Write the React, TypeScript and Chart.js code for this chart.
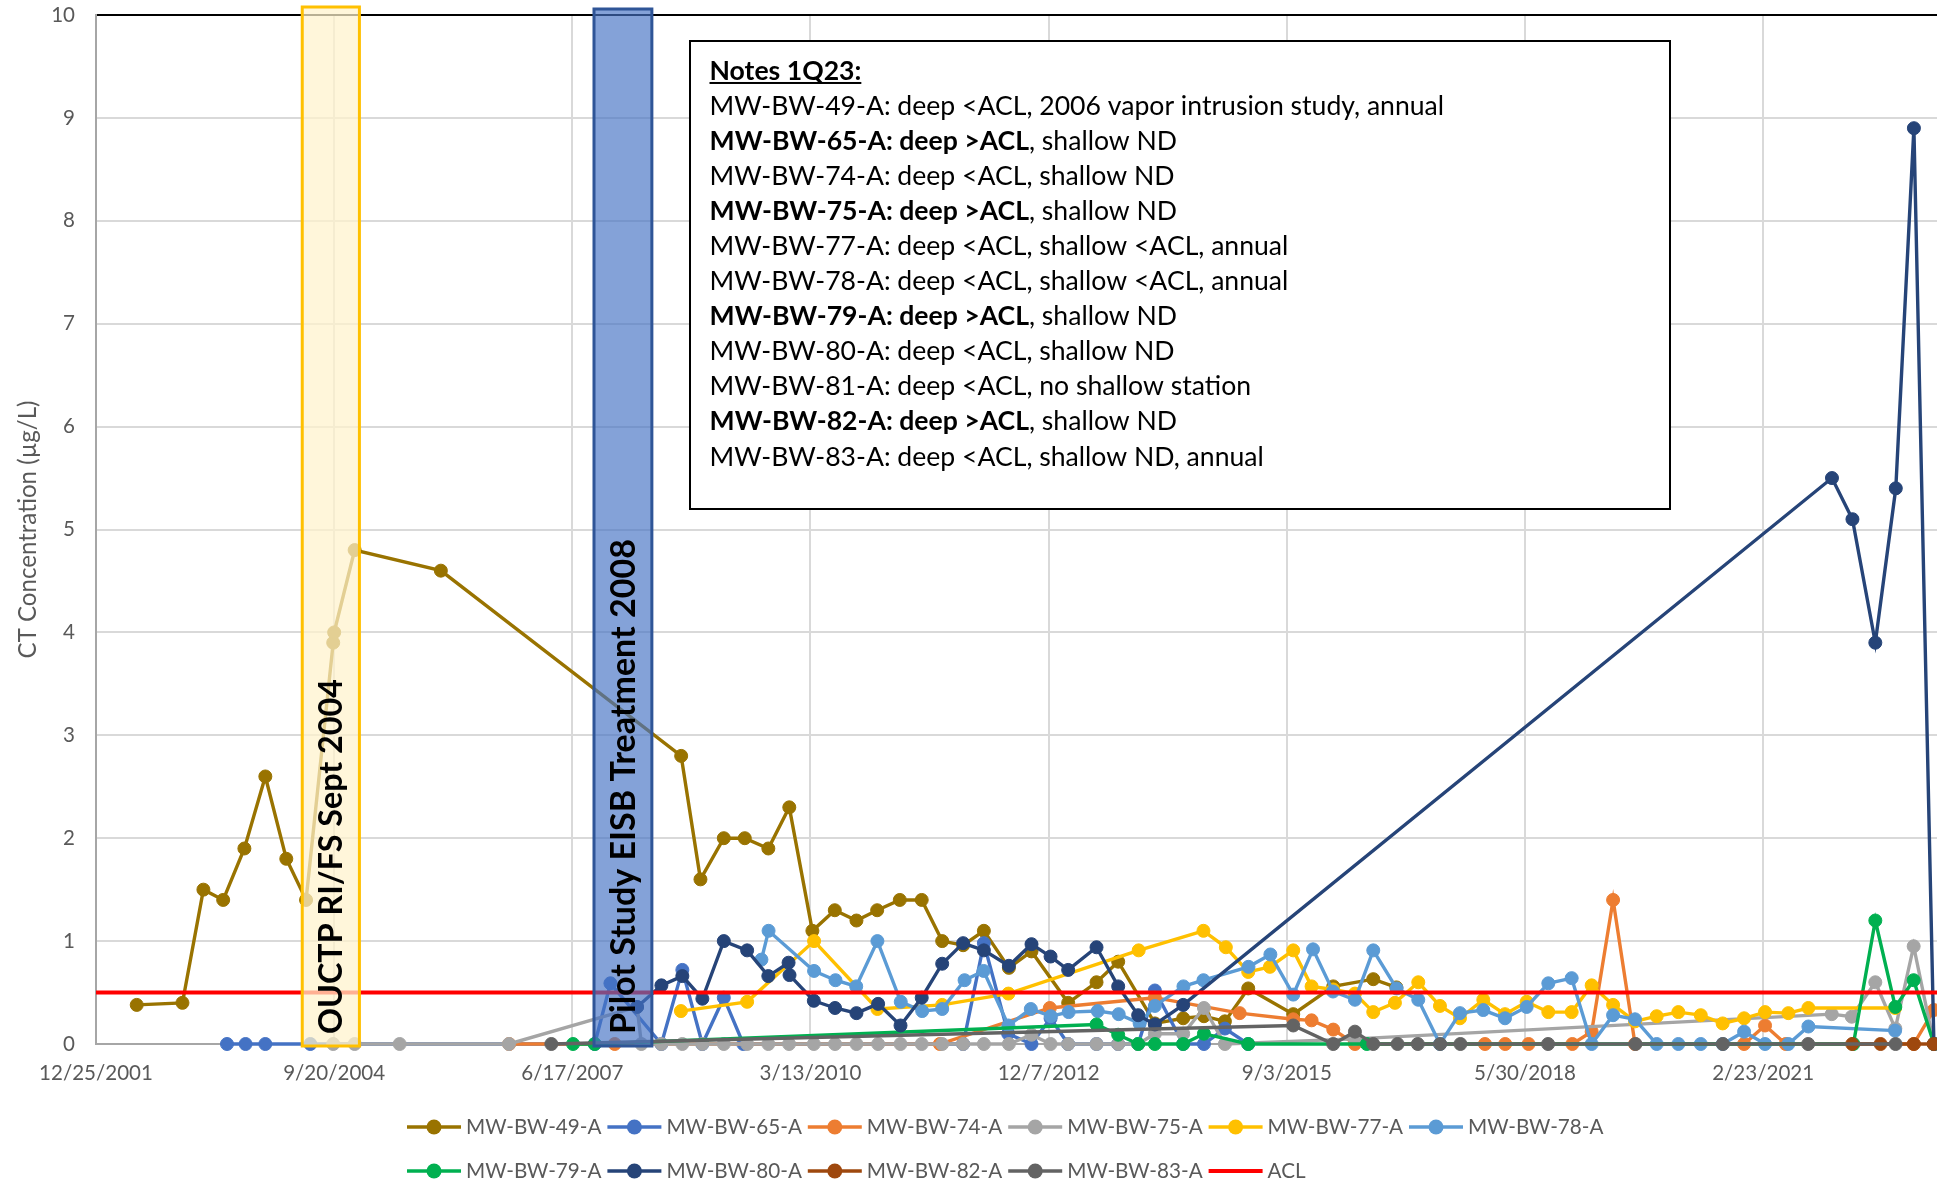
import React, { useEffect, useRef } from 'react';
import { Chart, registerables } from 'chart.js';

Chart.register(...registerables);

const W = 1937;
const H = 1185;
const FONT = 'Lato, "Open Sans", sans-serif';

// x values are days counted from the axis origin 12/25/2001
const AXIS_ORIGIN = '12/25/2001';
const X_MIN = 0;
const X_MAX = 7730;
const X_TICK_VALUES = [0, 1000, 2000, 3000, 4000, 5000, 6000, 7000];
const X_TICK_LABELS = ['12/25/2001', '9/20/2004', '6/17/2007', '3/13/2010', '12/7/2012', '9/3/2015', '5/30/2018', '2/23/2021'];
const Y_MIN = 0;
const Y_MAX = 10;
const Y_STEP = 1;
const Y_TITLE = 'CT Concentration (µg/L)';

const SERIES_NAMES = ['MW-BW-49-A', 'MW-BW-65-A', 'MW-BW-74-A', 'MW-BW-75-A', 'MW-BW-77-A', 'MW-BW-78-A', 'MW-BW-79-A', 'MW-BW-80-A', 'MW-BW-82-A', 'MW-BW-83-A', 'ACL'];
const SERIES_COLORS = ['#997300', '#4472C4', '#ED7D31', '#A5A5A5', '#FFC000', '#5B9BD5', '#00B050', '#264478', '#9E480E', '#636363', '#FF0000'];

const DAYS_49 = [171, 363, 451, 534, 623, 711, 799, 882, 996, 1000, 1086, 1448, 2457, 2538, 2636, 2724, 2823, 2911, 3008, 3102, 3193, 3280, 3375, 3467, 3553, 3641, 3728, 3833, 3928, 4082, 4201, 4292, 4446, 4565, 4652, 4740, 4838, 5027, 5195, 5363, 5460];
const VALUES_49 = [0.38, 0.40, 1.5, 1.4, 1.9, 2.6, 1.8, 1.4, 3.9, 4.0, 4.8, 4.6, 2.8, 1.6, 2.0, 2.0, 1.9, 2.3, 1.1, 1.3, 1.2, 1.3, 1.4, 1.4, 1.0, 0.96, 1.1, 0.74, 0.9, 0.4, 0.6, 0.8, 0.2, 0.25, 0.27, 0.22, 0.54, 0.29, 0.56, 0.63, 0.55];

const DAYS_65 = [550, 628, 711, 900, 2094, 2160, 2374, 2462, 2546, 2636, 2718, 3641, 3728, 3830, 3928, 4008, 4082, 4201, 4292, 4376, 4446, 4565, 4652, 4740, 4838];
const VALUES_65 = [0, 0, 0, 0, 0, 0.59, 0, 0.72, 0, 0.45, 0, 0, 0.98, 0.1, 0, 0.25, 0, 0, 0, 0, 0.52, 0, 0, 0.15, 0];

const DAYS_74 = [1735, 2178, 3543, 4005, 4446, 4802, 5027, 5104, 5195, 5286, 5832, 5917, 6015, 6199, 6280, 6370, 6462, 6920, 7008, 7095, 7632, 7717];
const VALUES_74 = [0, 0, 0, 0.35, 0.45, 0.3, 0.24, 0.23, 0.14, 0, 0, 0, 0, 0, 0.12, 1.4, 0, 0, 0.18, 0, 0, 0.33];

const DAYS_75 = [996, 1086, 1275, 1734, 2272, 2290, 2374, 2462, 2546, 2636, 2734, 2823, 2910, 3014, 3103, 3193, 3284, 3378, 3467, 3553, 3641, 3728, 3833, 3928, 4008, 4082, 4201, 4292, 4376, 4446, 4565, 4652, 4740, 5286, 7288, 7372, 7471, 7555, 7632, 7717];
const VALUES_75 = [0, 0, 0, 0, 0.36, 0, 0, 0, 0, 0, 0, 0, 0, 0, 0, 0, 0, 0, 0, 0, 0, 0, 0, 0.09, 0, 0, 0, 0, 0, 0.1, 0.1, 0.35, 0, 0.05, 0.29, 0.265, 0.6, 0.15, 0.95, 0];

const DAYS_77 = [2456, 2734, 3015, 3281, 3553, 3831, 4378, 4650, 4744, 4838, 4929, 5027, 5104, 5195, 5286, 5363, 5454, 5552, 5643, 5727, 5825, 5916, 6007, 6098, 6196, 6280, 6370, 6462, 6553, 6644, 6738, 6830, 6920, 7008, 7106, 7190, 7554];
const VALUES_77 = [0.32, 0.41, 1.0, 0.34, 0.38, 0.49, 0.91, 1.1, 0.94, 0.70, 0.75, 0.91, 0.56, 0.53, 0.49, 0.31, 0.40, 0.60, 0.37, 0.25, 0.43, 0.29, 0.41, 0.31, 0.31, 0.57, 0.38, 0.22, 0.27, 0.31, 0.28, 0.20, 0.25, 0.31, 0.30, 0.35, 0.35];

const DAYS_78 = [2794, 2824, 3015, 3105, 3192, 3281, 3379, 3469, 3553, 3647, 3727, 3831, 3925, 4009, 4084, 4206, 4294, 4382, 4446, 4566, 4650, 4839, 4931, 5027, 5110, 5194, 5286, 5363, 5461, 5552, 5643, 5727, 5825, 5916, 6007, 6098, 6196, 6280, 6370, 6462, 6553, 6644, 6738, 6830, 6920, 7008, 7106, 7190, 7554];
const VALUES_78 = [0.82, 1.1, 0.71, 0.62, 0.56, 1.0, 0.41, 0.32, 0.34, 0.62, 0.71, 0.18, 0.34, 0.27, 0.31, 0.32, 0.29, 0.20, 0.37, 0.56, 0.62, 0.75, 0.87, 0.48, 0.92, 0.51, 0.43, 0.91, 0.54, 0.43, 0, 0.30, 0.33, 0.25, 0.36, 0.59, 0.64, 0, 0.28, 0.24, 0, 0, 0, 0, 0.12, 0, 0, 0.17, 0.13];

const DAYS_79 = [2003, 2094, 4201, 4292, 4376, 4446, 4565, 4652, 4838, 5336, 7379, 7471, 7555, 7632, 7717];
const VALUES_79 = [0, 0, 0.19, 0.09, 0, 0, 0, 0.1, 0, 0, 0, 1.2, 0.36, 0.62, 0];

const DAYS_80 = [2272, 2374, 2462, 2546, 2636, 2734, 2823, 2908, 2912, 3014, 3103, 3193, 3284, 3378, 3467, 3553, 3641, 3728, 3833, 3928, 4008, 4082, 4201, 4292, 4376, 4446, 4565, 7289, 7375, 7471, 7557, 7633, 7717];
const VALUES_80 = [0.36, 0.57, 0.66, 0.44, 1.0, 0.91, 0.66, 0.79, 0.67, 0.42, 0.35, 0.30, 0.39, 0.18, 0.45, 0.78, 0.98, 0.91, 0.76, 0.97, 0.85, 0.72, 0.94, 0.56, 0.28, 0.19, 0.38, 5.5, 5.1, 3.9, 5.4, 8.9, 0];

const DAYS_82 = [7374, 7493, 7633, 7716];
const VALUES_82 = [0, 0, 0, 0];

const DAYS_83 = [1912, 5027, 5195, 5286, 5363, 5465, 5550, 5644, 5729, 6097, 6464, 6831, 7189, 7556];
const VALUES_83 = [0, 0.18, 0, 0.12, 0, 0, 0, 0, 0, 0, 0, 0, 0, 0];

const DAYS_ACL = [X_MIN, X_MAX];
const VALUES_ACL = [0.5, 0.5];

const SERIES_DAYS = [DAYS_49, DAYS_65, DAYS_74, DAYS_75, DAYS_77, DAYS_78, DAYS_79, DAYS_80, DAYS_82, DAYS_83, DAYS_ACL];
const SERIES_VALUES = [VALUES_49, VALUES_65, VALUES_74, VALUES_75, VALUES_77, VALUES_78, VALUES_79, VALUES_80, VALUES_82, VALUES_83, VALUES_ACL];

// shaded periods (days from origin)
const BAND_TEXTS = ['OUCTP RI/FS Sept 2004', 'Pilot Study EISB Treatment 2008'];
const BAND_FROM = [866, 2091];
const BAND_TO = [1106, 2334];

const NOTES_TITLE = 'Notes 1Q23:';
const NOTES_BOLD = ['', 'MW-BW-65-A: deep >ACL', '', 'MW-BW-75-A: deep >ACL', '', '', 'MW-BW-79-A: deep >ACL', '', '', 'MW-BW-82-A: deep >ACL', ''];
const NOTES_REGULAR = [
  'MW-BW-49-A: deep <ACL, 2006 vapor intrusion study, annual',
  ', shallow ND',
  'MW-BW-74-A: deep <ACL, shallow ND',
  ', shallow ND',
  'MW-BW-77-A: deep <ACL, shallow <ACL, annual',
  'MW-BW-78-A: deep <ACL, shallow <ACL, annual',
  ', shallow ND',
  'MW-BW-80-A: deep <ACL, shallow ND',
  'MW-BW-81-A: deep <ACL, no shallow station',
  ', shallow ND',
  'MW-BW-83-A: deep <ACL, shallow ND, annual',
];

function fitSize(text: string, weight: string, target: number): number {
  const c = document.createElement('canvas');
  const g = c.getContext('2d') as CanvasRenderingContext2D;
  g.font = `${weight} 100px ${FONT}`;
  const w = g.measureText(text).width || 1;
  return (100 * target) / w;
}

export default function App() {
  const ref = useRef<HTMLCanvasElement | null>(null);

  useEffect(() => {
    if (!ref.current) return;
    const tickSize = fitSize('12/25/2001', 'normal', 114);
    const legendSize = fitSize('MW-BW-49-A', 'normal', 135.5);
    const titleSize = fitSize(Y_TITLE, 'normal', 258);
    const notesSize = fitSize(NOTES_REGULAR[0], 'normal', 735);
    const bandSizes = [fitSize(BAND_TEXTS[0], 'bold', 355), fitSize(BAND_TEXTS[1], 'bold', 495)];

    const datasets: any[] = SERIES_NAMES.map((name, i) => {
      const isAcl = name === 'ACL';
      return {
        label: name,
        data: SERIES_DAYS[i].map((d, k) => ({ x: d, y: SERIES_VALUES[i][k] })),
        borderColor: SERIES_COLORS[i],
        backgroundColor: SERIES_COLORS[i],
        borderWidth: isAcl ? 4 : 3.4,
        pointRadius: isAcl ? 0 : 6.5,
        pointHoverRadius: isAcl ? 0 : 6.5,
        pointBorderWidth: 1,
        pointBackgroundColor: SERIES_COLORS[i],
        pointBorderColor: SERIES_COLORS[i],
        tension: 0,
        clip: false,
        order: -i,
      };
    });

    const bandsPlugin = {
      id: 'bands',
      afterDatasetsDraw(chart: any) {
        const { ctx, chartArea } = chart;
        const xs = chart.scales.x;
        const styles = [
          { fill: 'rgba(255,242,204,0.72)', stroke: '#FFC000', over: 8 },
          { fill: 'rgba(68,114,196,0.66)', stroke: '#2F5597', over: 6 },
        ];
        BAND_TEXTS.forEach((text, i) => {
          const x0 = xs.getPixelForValue(BAND_FROM[i]);
          const x1 = xs.getPixelForValue(BAND_TO[i]);
          const top = chartArea.top - styles[i].over;
          const bottom = chartArea.bottom + 2;
          ctx.save();
          ctx.fillStyle = styles[i].fill;
          ctx.fillRect(x0, top, x1 - x0, bottom - top);
          ctx.strokeStyle = styles[i].stroke;
          ctx.lineWidth = 3;
          ctx.strokeRect(x0, top, x1 - x0, bottom - top);
          const fs = bandSizes[i];
          ctx.font = `bold ${fs}px ${FONT}`;
          ctx.fillStyle = '#000';
          ctx.textBaseline = 'alphabetic';
          ctx.textAlign = 'left';
          ctx.translate((x0 + x1) / 2, chartArea.bottom - 10);
          ctx.rotate(-Math.PI / 2);
          ctx.fillText(text, 0, fs * 0.36);
          ctx.restore();
        });
      },
    };

    const notesPlugin = {
      id: 'notes',
      afterDraw(chart: any) {
        const ctx = chart.ctx;
        ctx.save();
        const L = 690, T = 41, R = 1670, B = 509;
        ctx.fillStyle = '#fff';
        ctx.fillRect(L, T, R - L, B - T);
        ctx.strokeStyle = '#000';
        ctx.lineWidth = 2;
        ctx.strokeRect(L, T, R - L, B - T);
        const fs = notesSize;
        const x0 = 709.5;
        const c0 = 70.4;
        const step = 35.05;
        ctx.fillStyle = '#000';
        ctx.textBaseline = 'alphabetic';
        ctx.textAlign = 'left';
        ctx.font = `bold ${fs}px ${FONT}`;
        const ty = c0 + fs * 0.36;
        ctx.fillText(NOTES_TITLE, x0, ty);
        const tw = ctx.measureText(NOTES_TITLE).width;
        ctx.fillRect(x0, ty + 2, tw, 2);
        NOTES_REGULAR.forEach((reg, i) => {
          const y = c0 + (i + 1) * step + fs * 0.36;
          let x = x0;
          const b = NOTES_BOLD[i];
          if (b) {
            ctx.font = `bold ${fs}px ${FONT}`;
            ctx.fillText(b, x, y);
            x += ctx.measureText(b).width;
          }
          ctx.font = `${fs}px ${FONT}`;
          ctx.fillText(reg, x, y);
        });
        ctx.restore();
      },
    };

    const legendPlugin = {
      id: 'customLegend',
      afterDraw(chart: any) {
        const ctx = chart.ctx;
        ctx.save();
        const rows = [[0, 1, 2, 3, 4, 5], [6, 7, 8, 9, 10]];
        const rowY = [1127, 1171];
        const startX = 407;
        const colW = 200.4;
        rows.forEach((row, r) => {
          row.forEach((idx, c) => {
            const x = startX + c * colW;
            const y = rowY[r];
            const col = SERIES_COLORS[idx];
            ctx.strokeStyle = col;
            ctx.lineWidth = idx === 10 ? 4 : 3.5;
            ctx.beginPath();
            ctx.moveTo(x, y);
            ctx.lineTo(x + 54, y);
            ctx.stroke();
            if (idx !== 10) {
              ctx.fillStyle = col;
              ctx.beginPath();
              ctx.arc(x + 27, y, 7.5, 0, Math.PI * 2);
              ctx.fill();
            }
            ctx.fillStyle = '#595959';
            ctx.font = `${legendSize}px ${FONT}`;
            ctx.textBaseline = 'alphabetic';
            ctx.textAlign = 'left';
            ctx.fillText(SERIES_NAMES[idx], x + 59, y + legendSize * 0.36);
          });
        });
        ctx.restore();
      },
    };

    const chart = new Chart(ref.current, {
      type: 'line',
      data: { datasets },
      options: {
        responsive: false,
        animation: false,
        devicePixelRatio: 1,
        events: [],
        layout: { autoPadding: false, padding: { top: 15, left: 0, right: 0, bottom: 0 } },
        plugins: { legend: { display: false }, tooltip: { enabled: false } },
        scales: {
          x: {
            type: 'linear',
            min: X_MIN,
            max: X_MAX,
            afterBuildTicks: (s: any) => {
              s.ticks = X_TICK_VALUES.map((v) => ({ value: v }));
            },
            afterFit: (s: any) => {
              s.height = 141;
              s.paddingLeft = 0;
              s.paddingRight = 0;
            },
            ticks: {
              autoSkip: false,
              maxRotation: 0,
              minRotation: 0,
              padding: 17,
              color: '#595959',
              font: { family: FONT, size: tickSize },
              callback: (v: any) => {
                const k = X_TICK_VALUES.indexOf(Number(v));
                return k >= 0 ? X_TICK_LABELS[k] : '';
              },
            },
            grid: { color: '#D9D9D9', lineWidth: 2, drawTicks: false },
            border: { color: '#A6A6A6', width: 2 },
          },
          y: {
            type: 'linear',
            min: Y_MIN,
            max: Y_MAX,
            afterFit: (s: any) => {
              s.width = 96;
              s.paddingTop = 0;
              s.paddingBottom = 0;
            },
            ticks: {
              stepSize: Y_STEP,
              padding: 21,
              color: '#595959',
              font: { family: FONT, size: tickSize },
            },
            grid: {
              color: (c: any) => (c.tick && c.tick.value === Y_MAX ? '#000000' : '#D9D9D9'),
              lineWidth: 2,
              drawTicks: false,
            },
            border: { color: '#A6A6A6', width: 2 },
            title: {
              display: true,
              text: Y_TITLE,
              color: '#595959',
              font: { family: FONT, size: titleSize },
              padding: { top: 14, bottom: 0 },
            },
          },
        },
      } as any,
      plugins: [bandsPlugin, notesPlugin, legendPlugin],
    });
    return () => chart.destroy();
  }, []);

  return (
    <div style={{ position: 'fixed', left: 0, top: 0, width: W, height: H, background: '#fff' }}>
      <canvas ref={ref} width={W} height={H} style={{ display: 'block', width: W, height: H }} />
    </div>
  );
}
